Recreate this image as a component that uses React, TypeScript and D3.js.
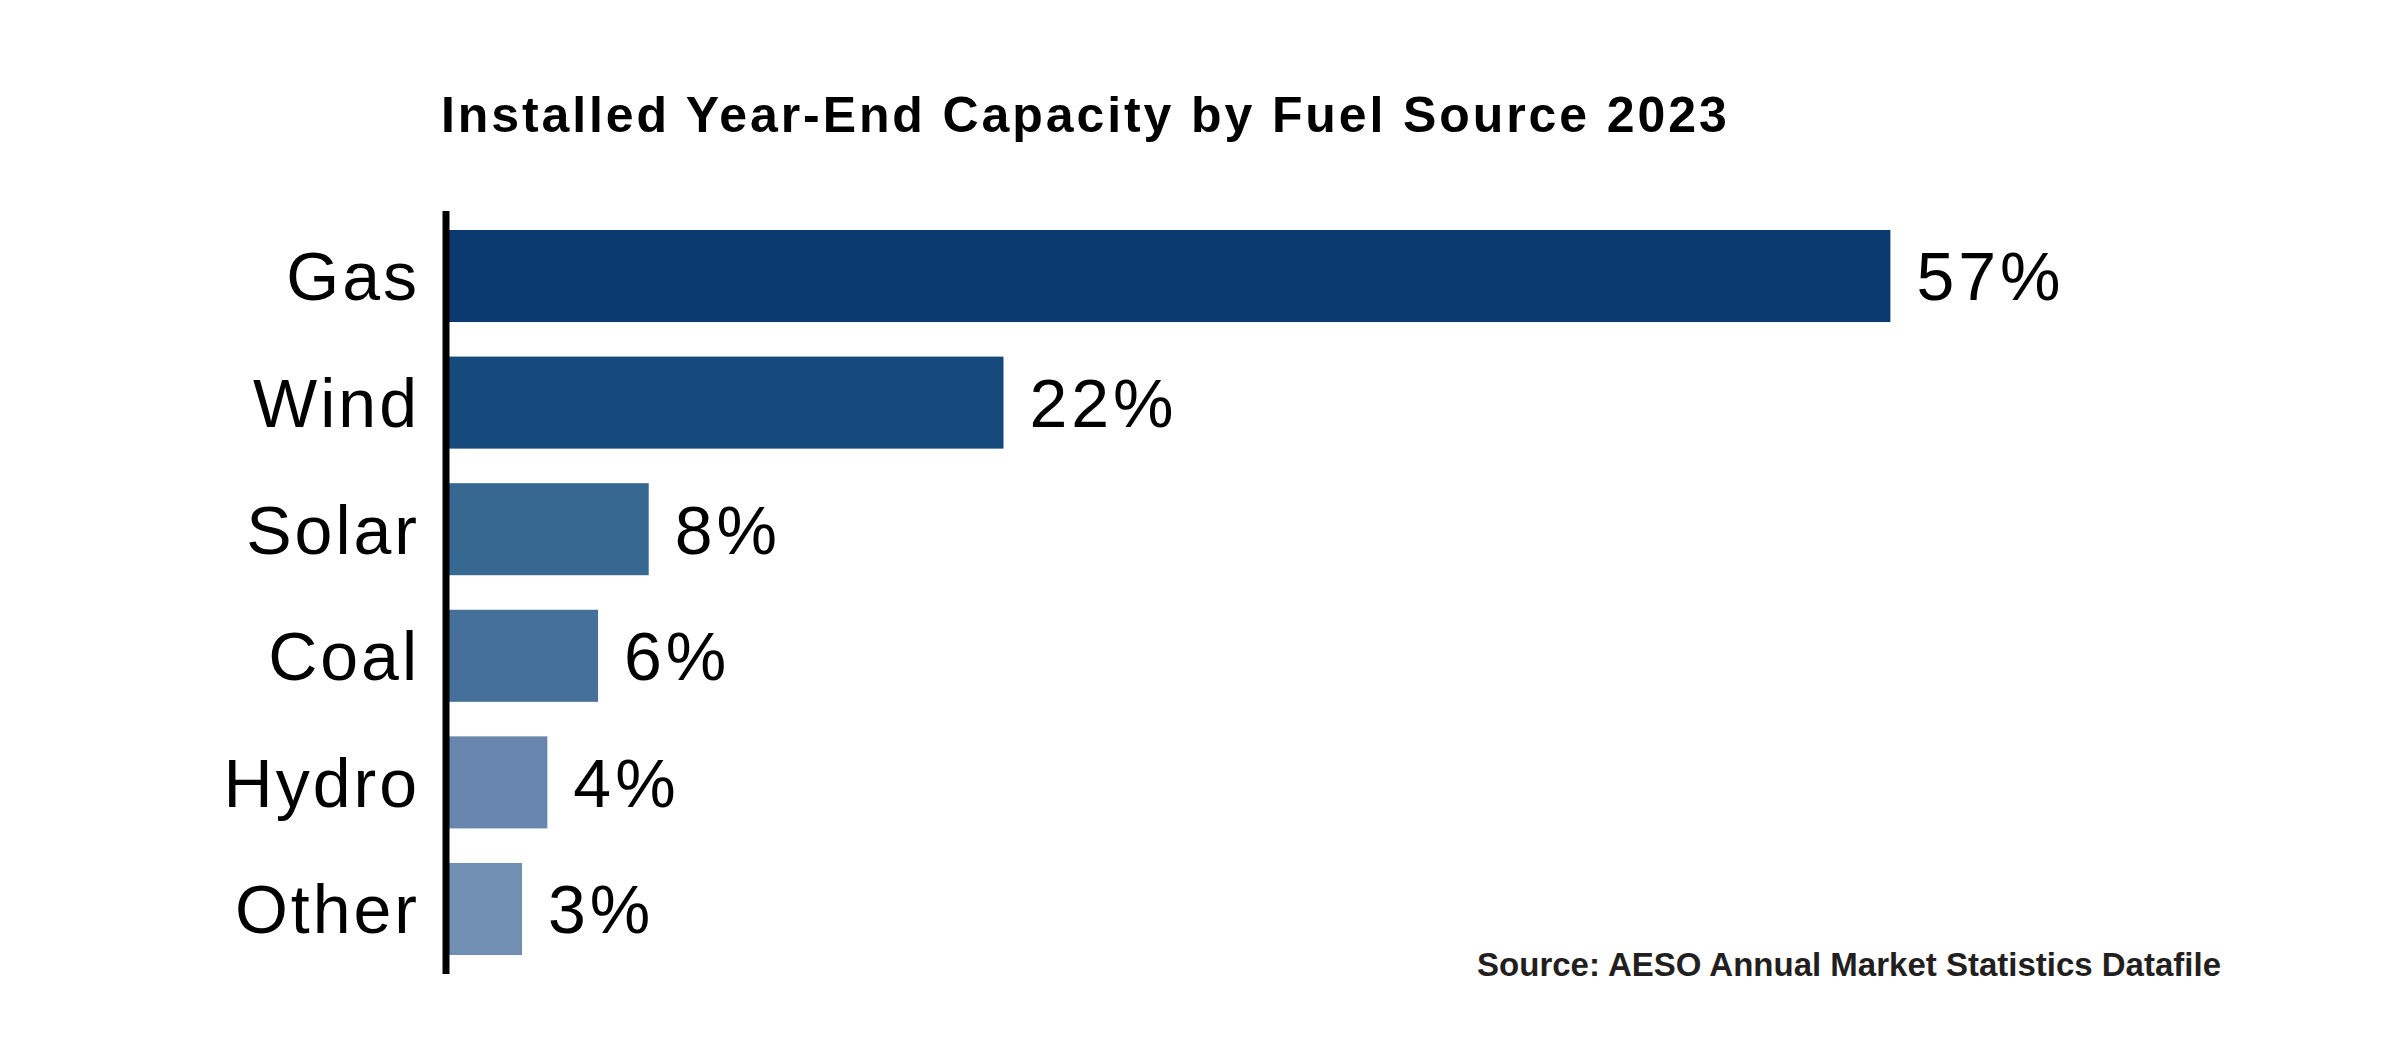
import React, { useRef, useEffect } from 'react';
import * as d3 from 'd3';

const categories = ['Gas', 'Wind', 'Solar', 'Coal', 'Hydro', 'Other'];
const shares = [57, 22, 8, 6, 4, 3];
const barColors = ['#0b3a70', '#174a7c', '#366892', '#44709a', '#6886ad', '#718eb3'];

const title = 'Installed Year-End Capacity by Fuel Source 2023';
const sourceNote = 'Source: AESO Annual Market Statistics Datafile';

const width = 2402;
const height = 1040;
const fontFamily = '"Liberation Sans", Arial, Helvetica, sans-serif';

const App: React.FC = () => {
  const svgRef = useRef<SVGSVGElement>(null);

  useEffect(() => {
    if (!svgRef.current) return;
    const svg = d3.select(svgRef.current);
    svg.selectAll('*').remove();

    const axisX = 446;
    const axisTop = 211;
    const axisBottom = 974;

    const yScale = d3
      .scaleBand<string>()
      .domain(categories)
      .range([axisTop, axisBottom])
      .paddingInner(0.273)
      .paddingOuter(0.15);

    // bars grow from the axis line
    const xScale = d3.scaleLinear().domain([0, 60]).range([axisX, axisX + 60 * 25.34]);

    const rows = categories.map((c, i) => ({ name: c, value: shares[i], color: barColors[i] }));

    // background
    svg.append('rect').attr('width', width).attr('height', height).attr('fill', '#ffffff');

    // title
    svg
      .append('text')
      .attr('x', 441)
      .attr('y', 132)
      .attr('font-family', fontFamily)
      .attr('font-size', 50)
      .attr('font-weight', 'bold')
      .attr('letter-spacing', 2.9)
      .attr('fill', '#000')
      .text(title);

    // bars
    svg
      .append('g')
      .selectAll('rect')
      .data(rows)
      .enter()
      .append('rect')
      .attr('x', xScale(0))
      .attr('y', (d) => yScale(d.name) || 0)
      .attr('width', (d) => xScale(d.value) - xScale(0))
      .attr('height', yScale.bandwidth())
      .attr('fill', (d) => d.color);

    const labelSize = 68;
    const capOffset = labelSize * 0.358;

    // category labels
    svg
      .append('g')
      .selectAll('text')
      .data(rows)
      .enter()
      .append('text')
      .attr('x', 420)
      .attr('y', (d) => (yScale(d.name) || 0) + yScale.bandwidth() / 2 + capOffset)
      .attr('text-anchor', 'end')
      .attr('font-family', fontFamily)
      .attr('font-size', labelSize)
      .attr('letter-spacing', 3)
      .attr('fill', '#000')
      .text((d) => d.name);

    // value labels
    svg
      .append('g')
      .selectAll('text')
      .data(rows)
      .enter()
      .append('text')
      .attr('x', (d) => xScale(d.value) + 26)
      .attr('y', (d) => (yScale(d.name) || 0) + yScale.bandwidth() / 2 + capOffset)
      .attr('font-family', fontFamily)
      .attr('font-size', labelSize)
      .attr('letter-spacing', 4)
      .attr('fill', '#000')
      .text((d) => `${d.value}%`);

    // axis line
    svg
      .append('line')
      .attr('x1', axisX)
      .attr('x2', axisX)
      .attr('y1', axisTop)
      .attr('y2', axisBottom)
      .attr('stroke', '#000')
      .attr('stroke-width', 7);

    // source note
    svg
      .append('text')
      .attr('x', 2221)
      .attr('y', 976)
      .attr('text-anchor', 'end')
      .attr('font-family', fontFamily)
      .attr('font-size', 33)
      .attr('font-weight', 'bold')
      .attr('fill', '#231f20')
      .text(sourceNote);
  }, []);

  return (
    <div style={{ position: 'absolute', left: 0, top: 0 }}>
      <svg ref={svgRef} width={width} height={height} style={{ display: 'block' }} />
    </div>
  );
};

export default App;
